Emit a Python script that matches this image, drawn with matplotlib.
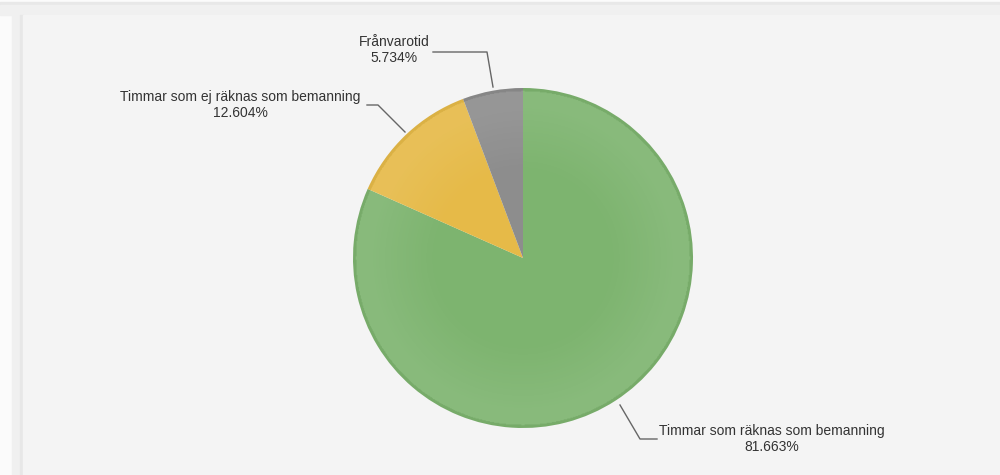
import numpy as np
import matplotlib.pyplot as plt
from matplotlib.patches import Rectangle, Circle

# Data
labels = ['Timmar som räknas som bemanning', 'Timmar som ej räknas som bemanning', 'Frånvarotid']
values = [81.663, 12.604, 5.734]
colors = ['#7db46f', '#e6ba48', '#8d8d8d']

plt.rcParams['font.family'] = ['Liberation Sans', 'DejaVu Sans']

W, H = 1000, 475
fig = plt.figure(figsize=(10, 4.75), dpi=100)
fig.patch.set_facecolor('#fbfbfb')
ax = fig.add_axes([0, 0, 1, 1])

# Panel background with soft border
ax.add_patch(Rectangle((0, H - 5), W, 3, color='#e8e8e8', zorder=0))
ax.add_patch(Rectangle((0, H - 15), W, 10, color='#f0f0f0', zorder=0))
ax.add_patch(Rectangle((12, 0), 8, H - 15, color='#f0f0f0', zorder=0))
ax.add_patch(Rectangle((20, 0), 3, H - 15, color='#e7e7e7', zorder=0))
ax.add_patch(Rectangle((23, 0), W - 23, H - 15, color='#f4f4f4', zorder=0))

# Pie
cx, cy, r = 523, H - 258, 170
wedges, _ = ax.pie(values, colors=colors, startangle=90, counterclock=False,
                   center=(cx, cy), radius=r, frame=True,
                   wedgeprops=dict(linewidth=0))
ax.set_xlim(0, W)
ax.set_ylim(0, H)
ax.set_aspect('equal')
ax.axis('off')
for w in wedges:
    w.set_zorder(2)

# Soft radial shading on top of the pie
n = 400
xs = np.linspace(cx - r, cx + r, n)
ys = np.linspace(cy - r, cy + r, n)
X, Y = np.meshgrid(xs, ys)
R = np.sqrt((X - cx) ** 2 + (Y - cy) ** 2) / r
shade = np.ones((n, n, 4))
shade[..., 3] = np.clip((R - 0.5) / 0.4, 0, 1) * 0.09
edge = R > 0.985
shade[edge, :3] = 0.0
shade[edge, 3] = 0.05
im = ax.imshow(shade, extent=(cx - r, cx + r, cy - r, cy + r), origin='lower',
               zorder=3, interpolation='bilinear')
im.set_clip_path(Circle((cx, cy), r, transform=ax.transData))
ax.set_xlim(0, W)
ax.set_ylim(0, H)


# Labels with connectors (pixel positions, y from top)
def label(text, pct, tx, ty, line):
    ax.text(tx, H - ty, text, ha='center', va='center', fontsize=10, color='#333333', zorder=5)
    ax.text(tx, H - ty - 16, f'{pct:.3f}%', ha='center', va='center', fontsize=10, color='#333333', zorder=5)
    lx = [p[0] for p in line]
    ly = [H - p[1] for p in line]
    ax.plot(lx, ly, color='#666666', lw=1, zorder=4)


label(labels[2], values[2], 394, 42, [(433, 52), (487, 52), (493, 87)])
label(labels[1], values[1], 240, 97, [(367, 105), (378, 105), (405, 132)])
label(labels[0], values[0], 772, 431, [(620, 405), (640, 439), (657, 439)])

fig.savefig('out.png', dpi=100)
